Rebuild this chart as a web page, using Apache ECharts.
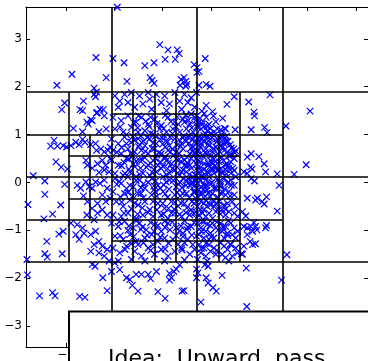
<!DOCTYPE html>
<html>
<head>
<meta charset="utf-8">
<script src="https://cdn.jsdelivr.net/npm/echarts@6/dist/echarts.min.js"></script>
<style>
html, body { margin: 0; padding: 0; background: #fff; }
#main { width: 368px; height: 361px; }
</style>
</head>
<body>
<div id="main"></div>
<script>
var xTicks = [-3, -2, -1, 0, 1, 2, 3];
var yTicks = [-3, -2, -1, 0, 1, 2, 3];
var xRange = [-3.83, 3.25];
var yRange = [-3.437, 3.665];

// quadtree cells that got split: [level, col, row], rows counted from the top
var splitCells = [
    [0, 0, 0],
    [1, 0, 0], [1, 1, 0], [1, 0, 1], [1, 1, 1],
    [2, 0, 1], [2, 0, 2], [2, 1, 1], [2, 2, 1], [2, 1, 2], [2, 2, 2],
    [3, 1, 3], [3, 1, 4],
    [3, 2, 2], [3, 3, 2], [3, 2, 3], [3, 3, 3], [3, 4, 3],
    [3, 2, 4], [3, 3, 4], [3, 2, 5], [3, 3, 5], [3, 4, 4], [3, 4, 5]
];

var ptsTop = [
    [-1.94,3.66],[-3.19,2.03],[-2.88,2.26],[-2.38,2.61],[-2.17,2.19],[-2.03,2.59],[-1.80,2.50],[-1.74,2.11],
    [-1.37,2.44],[-1.26,2.19],[-1.18,2.50],[-1.06,2.88],[-0.95,2.57],[-0.89,2.77],[-0.74,2.57],[-0.70,2.77],
    [-0.66,2.69],[-1.22,2.13],[-1.18,2.07],[-0.62,2.15],[-0.64,2.03],[-2.42,1.97],[-0.35,2.46],[-0.29,2.40],
    [-0.25,2.32],[-0.29,2.30],[-0.12,2.59],[-0.52,2.01],[-0.50,2.05],[-0.25,2.03],[-0.10,2.05],[-0.02,2.01],
    [-0.56,2.19],[-0.52,2.11]
];
var ptsRightTop = [
    [0.48,1.79],[0.33,1.63],[-0.10,1.61],[0.03,1.48],[-0.19,1.49],[-0.14,1.44],[0.24,1.34],[0.78,1.68],
    [0.89,1.47],[0.90,1.39],[1.22,1.83],[0.83,1.10],[1.11,1.15],[1.16,1.04],[0.50,1.10],[0.30,1.12],
    [0.20,1.10],[0.83,0.60],[0.75,0.53],[0.99,0.54],[1.10,0.39],[0.82,0.32],[0.85,0.28],[1.13,0.22],
    [0.68,0.22],[0.75,0.19],[1.37,0.18],[0.47,0.70],[0.51,0.66],[0.49,0.62],[0.34,0.64],[0.42,0.59],
    [0.39,0.55],[0.37,0.29],[0.30,0.27],[0.48,0.25],[0.20,0.29],[0.23,0.19],[0.02,0.41],[0.08,0.35],
    [-0.02,0.33],[0.04,0.27],[0.12,0.31],[0.15,0.25],[0.19,0.91],[0.25,0.97],[0.31,0.87],[0.27,0.81],
    [0.12,0.85],[0.19,0.77],[-0.32,1.29],[-0.25,1.26],[-0.18,1.22],[-0.28,1.15],[-0.21,1.12],[-0.14,1.17],
    [-0.08,1.08],[-0.01,1.13],[0.06,1.05],[-0.11,1.01],[0.13,1.12],[-0.04,1.22],[-0.30,1.39],[-0.23,1.34],
    [-0.32,0.98],[-0.25,0.95],[-0.18,0.91],[-0.28,0.84],[-0.21,0.81],[-0.14,0.85],[-0.08,0.95],[-0.01,0.91],
    [0.06,0.98],[0.13,0.91],[0.23,0.95],[0.30,0.84],[0.20,0.77],[0.10,0.74],[-0.04,0.77],[-0.11,0.70],
    [-0.25,0.67],[-0.32,0.60],[-0.18,0.56],[-0.08,0.60],[0.03,0.64],[0.13,0.60],[0.27,0.67],[0.37,0.56],
    [0.48,0.50],[-0.28,0.46],[-0.14,0.39],[-0.01,0.46],[0.17,0.43],[0.30,0.36],[0.41,0.43],[-0.21,0.25],
    [-0.08,0.22],[0.06,0.19],[0.23,0.22],[0.41,0.19],[0.51,0.12],[-0.32,0.15],[-0.14,0.12]
];
var ptsRight = [
    [2.05,1.49],[1.55,1.18],[1.97,0.37],[1.72,0.17],[1.57,-1.51],[1.41,-0.06],[1.37,-0.60],[0.74,-2.59],
    [0.83,0.08],[0.90,0.03],[0.75,-0.33],[0.92,-0.37],[0.96,-0.33],[1.06,-0.40],[1.10,-0.45],[1.15,-0.30],
    [0.65,-0.61],[0.72,-0.70],[0.89,-0.84],[0.92,-0.92],[0.82,-0.92],[0.86,-1.02],[0.75,-0.95],[0.68,-0.92],
    [0.95,-0.99],[1.15,-0.90],[1.13,-0.95],[0.65,-1.50],[-0.56,-2.26],[0.63,-1.49],[0.68,-1.33],[0.86,-1.30],
    [0.81,-1.23],[0.92,-1.28],[0.75,-1.09]
];
var ptsRightBottom = [
    [-0.32,0.15],[-0.25,0.08],[-0.18,0.13],[-0.11,0.05],[-0.28,-0.02],[-0.21,-0.09],[-0.15,-0.06],[-0.04,0.12],
    [-0.01,-0.02],[-0.08,-0.16],[0.06,-0.12],[-0.32,-0.19],[-0.18,-0.23],[0.03,-0.23],[0.13,0.05],[0.20,-0.09],
    [0.27,0.08],[0.34,-0.02],[0.41,0.05],[0.48,-0.06],[0.23,-0.19],[0.37,-0.19],[0.48,-0.26],[0.30,-0.26],
    [-0.32,-0.33],[-0.21,-0.40],[-0.11,-0.37],[-0.01,-0.47],[-0.28,-0.50],[-0.15,-0.57],[-0.04,-0.64],[0.06,-0.50],
    [-0.25,-0.68],[-0.11,-0.71],[0.03,-0.75],[0.10,-0.61],[0.17,-0.40],[0.27,-0.47],[0.34,-0.44],[0.44,-0.40],
    [0.51,-0.50],[0.23,-0.57],[0.37,-0.61],[0.48,-0.64],[0.30,-0.68],[0.55,-0.71],[-0.28,-0.85],[-0.18,-0.81],
    [-0.08,-0.88],[0.03,-0.85],[-0.21,-0.95],[-0.11,-1.02],[-0.01,-1.06],[0.10,-0.95],[-0.25,-1.09],[-0.15,-1.16],
    [-0.04,-1.19],[0.06,-1.16],[0.20,-0.85],[0.30,-0.92],[0.41,-0.85],[0.48,-0.95],[0.23,-1.02],[0.34,-1.06],
    [0.44,-1.09],[0.55,-1.02],[0.27,-1.16],[0.51,-1.16],[-0.25,-1.30],[-0.15,-1.37],[-0.04,-1.30],[0.06,-1.37],
    [-0.21,-1.47],[-0.11,-1.54],[-0.01,-1.44],[0.10,-1.50],[-0.28,-1.61],[-0.08,-1.64],[0.20,-1.26],[0.27,-1.33],
    [0.34,-1.40],[0.41,-1.30],[0.51,-1.37],[0.23,-1.50],[0.30,-1.57],[0.44,-1.54],[0.55,-1.47],[0.37,-1.64],
    [-0.35,0.05],[-0.30,-0.12],[-0.23,-0.23],[-0.16,-0.16],[-0.09,-0.06],[-0.27,-0.30],[-0.20,0.12],[-0.34,-0.06],
    [-0.15,-0.44],[-0.32,-0.61],[-0.18,-0.64],[-0.35,-0.44],[-0.08,-0.50],[-0.02,-0.30],[0.05,-0.37]
];
var ptsCenterTop = [
    [-1.99,1.81],[-1.89,1.70],[-1.79,1.84],[-1.72,1.67],[-1.65,1.88],[-1.48,1.81],[-1.41,1.64],[-1.30,1.88],
    [-1.27,1.74],[-1.13,1.84],[-1.03,1.67],[-0.96,1.81],[-0.86,1.64],[-0.75,1.88],[-0.65,1.70],[-0.55,1.84],
    [-0.48,1.67],[-0.41,1.77],[-0.30,1.88],[-1.92,1.57],[-1.58,1.57],[-1.23,1.53],[-0.92,1.50],[-0.61,1.53],
    [-0.34,1.57],[-2.03,1.36],[-1.86,1.29],[-1.72,1.39],[-1.55,1.26],[-1.44,1.36],[-1.30,1.22],[-1.17,1.32],
    [-1.03,1.19],[-0.89,1.36],[-0.75,1.26],[-0.58,1.32],[-0.44,1.22],[-0.34,1.36],[-1.99,1.12],[-1.82,1.05],
    [-1.65,1.15],[-1.51,1.05],[-1.37,1.08],[-1.20,1.01],[-1.06,1.12],[-0.92,1.05],[-0.79,1.12],[-0.65,1.05],
    [-0.51,1.12],[-0.37,1.05],[-0.28,1.19],[-2.06,0.91],[-1.92,0.81],[-1.79,0.95],[-1.65,0.84],[-1.51,0.91],
    [-1.37,0.77],[-1.27,0.91],[-1.13,0.81],[-0.99,0.91],[-0.86,0.77],[-0.75,0.91],[-0.61,0.81],[-0.48,0.95],
    [-0.34,0.84],[-2.03,0.67],[-1.86,0.60],[-1.72,0.70],[-1.58,0.64],[-1.44,0.67],[-1.30,0.60],[-1.17,0.70],
    [-1.03,0.60],[-0.89,0.67],[-0.72,0.64],[-0.58,0.70],[-0.44,0.60],[-0.30,0.67],[-2.06,0.46],[-1.92,0.36],
    [-1.75,0.50],[-1.61,0.39],[-1.48,0.46],[-1.34,0.32],[-1.20,0.46],[-1.10,0.36],[-0.96,0.50],[-0.82,0.39],
    [-0.68,0.46],[-0.55,0.36],[-0.41,0.50],[-0.30,0.39],[-1.99,0.19],[-1.82,0.15],[-1.68,0.22],[-1.55,0.12],
    [-1.41,0.19],[-1.27,0.15],[-1.13,0.22],[-0.99,0.12],[-0.86,0.19],[-0.75,0.26],[-0.65,0.15],[-0.51,0.22],
    [-0.37,0.12],[-0.28,0.26],[-0.90,0.29],[-0.48,0.08],[-1.03,0.29],[-0.41,1.43],[-0.32,0.98],[-0.27,0.57],
    [-0.55,1.26],[-0.37,0.74],[-0.27,0.91],[-0.44,0.36],[-0.61,0.22]
];
var ptsCenterBottom = [
    [-1.99,0.08],[-1.86,-0.02],[-1.72,0.12],[-1.61,-0.09],[-1.48,0.05],[-1.37,-0.12],[-1.23,0.08],[-1.10,-0.06],
    [-0.99,-0.19],[-0.86,0.05],[-0.72,-0.09],[-0.58,0.08],[-0.44,-0.06],[-0.34,-0.19],[-2.03,-0.19],[-1.79,-0.23],
    [-1.51,-0.23],[-1.23,-0.26],[-0.75,-0.26],[-0.51,-0.23],[-0.30,0.05],[-1.96,-0.40],[-1.82,-0.50],[-1.68,-0.37],
    [-1.51,-0.47],[-1.37,-0.40],[-1.27,-0.57],[-1.10,-0.44],[-0.96,-0.54],[-0.82,-0.40],[-0.68,-0.50],[-0.55,-0.44],
    [-0.41,-0.57],[-0.30,-0.40],[-2.03,-0.68],[-1.86,-0.71],[-1.72,-0.64],[-1.55,-0.75],[-1.41,-0.68],[-1.20,-0.71],
    [-1.03,-0.68],[-0.89,-0.75],[-0.75,-0.64],[-0.61,-0.71],[-0.44,-0.68],[-0.30,-0.75],[-2.06,-0.85],[-1.92,-0.92],
    [-1.79,-0.81],[-1.61,-0.95],[-1.48,-0.85],[-1.34,-0.99],[-1.17,-0.88],[-1.03,-1.02],[-0.89,-0.85],[-0.72,-0.95],
    [-0.58,-1.06],[-0.41,-0.92],[-1.99,-1.12],[-1.82,-1.19],[-1.68,-1.09],[-1.55,-1.23],[-1.37,-1.16],[-1.23,-1.09],
    [-1.10,-1.23],[-0.96,-1.16],[-0.79,-1.19],[-0.48,-1.19],[-0.30,-1.12],[-2.03,-1.37],[-1.89,-1.47],[-1.75,-1.33],
    [-1.58,-1.44],[-1.44,-1.54],[-1.30,-1.37],[-1.51,-1.30],[-1.17,-1.50],[-1.03,-1.40],[-0.89,-1.54],[-0.75,-1.44],
    [-0.61,-1.37],[-0.44,-1.50],[-0.34,-1.40],[-1.92,-1.64],[-1.65,-1.61],[-1.37,-1.64],[-0.96,-1.64],[-0.55,-1.62]
];
// the thick middle of the cloud, where single crosses run together
var ptsCore = [
    [-1.60,1.25],[-1.35,1.28],[-1.12,1.23],[-0.83,1.27],[-0.68,1.22],[-0.47,1.30],[-0.20,1.24],[0.10,1.27],
    [-1.75,1.00],[-1.45,0.97],[-1.25,1.03],[-0.98,0.99],[-0.80,1.02],[-0.56,0.97],[-0.42,1.01],[-0.15,0.98],
    [0.00,1.03],[0.22,1.00],[-1.58,0.88],[-1.40,0.86],[-1.05,0.90],[-0.90,0.85],[-0.66,0.89],[-0.52,0.86],
    [-0.38,0.90],[-0.05,0.87],[0.15,0.89],[0.35,0.86],[-1.85,0.73],[-1.50,0.75],[-1.22,0.71],[-0.95,0.74],
    [-0.80,0.70],[-0.63,0.76],[-0.41,0.72],[-0.22,0.74],[0.05,0.71],[0.25,0.75],[0.42,0.72],[-1.62,0.55],
    [-1.38,0.53],[-1.12,0.57],[-0.95,0.54],[-0.78,0.56],[-0.50,0.53],[-0.36,0.57],[-0.15,0.54],[0.00,0.56],
    [0.22,0.53],[-1.80,0.42],[-1.55,0.44],[-1.25,0.40],[-1.05,0.43],[-0.88,0.41],[-0.62,0.44],[-0.48,0.40],
    [-0.22,0.43],[-0.06,0.41],[0.10,0.44],[0.32,0.40],[-1.70,0.28],[-1.46,0.30],[-1.18,0.27],[-0.80,0.29],
    [-0.58,0.26],[-0.40,0.30],[-0.15,0.27],[0.00,0.29],[0.14,0.26],[0.45,0.30],[-1.90,0.02],[-1.55,0.04],
    [-1.30,0.00],[-1.15,0.03],[-0.93,0.01],[-0.78,0.04],[-0.64,0.00],[-0.50,0.03],[-0.38,0.01],[-0.22,0.04],
    [0.02,0.00],[0.18,0.03],[0.36,0.01],[-1.75,-0.13],[-1.45,-0.11],[-1.18,-0.15],[-1.05,-0.12],[-0.87,-0.14],
    [-0.60,-0.11],[-0.25,-0.15],[0.10,-0.12],[0.28,-0.14],[-1.88,-0.30],[-1.62,-0.28],[-1.40,-0.32],[-1.12,-0.29],
    [-0.90,-0.31],[-0.64,-0.28],[-0.45,-0.32],[-0.12,-0.29],[0.14,-0.31],[0.40,-0.28],[-1.65,-0.55],[-1.42,-0.53],
    [-1.12,-0.57],[-0.88,-0.54],[-0.76,-0.56],[-0.50,-0.53],[-0.22,-0.57],[0.15,-0.54],[0.30,-0.56],[-1.90,-0.82],
    [-1.55,-0.80],[-1.25,-0.84],[-0.96,-0.81],[-0.80,-0.83],[-0.55,-0.80],[-0.35,-0.84],[-0.14,-0.81],[0.12,-0.83],
    [0.36,-0.80],[-1.72,-1.00],[-1.45,-0.98],[-1.18,-1.02],[-0.85,-0.99],[-0.65,-1.01],[-0.50,-0.98],[-0.20,-1.02],
    [0.15,-0.99],[-1.65,-1.28],[-1.40,-1.26],[-1.20,-1.30],[-0.88,-1.27],[-0.68,-1.29],[-0.55,-1.26],[-0.38,-1.30],
    [-0.10,-1.27],[0.40,-1.29]
];
var ptsCore2 = [
    [-1.50,1.39],[-1.25,1.36],[-0.95,1.40],[-0.70,1.37],[-0.52,1.41],[-0.10,1.36],[0.05,1.39],
    [-1.88,1.16],[-1.52,1.14],[-1.28,1.17],[-0.98,1.13],[-0.72,1.16],[-0.40,1.14],[-0.08,1.17],[0.28,1.13],
    [-1.62,0.96],[-1.32,0.94],[-1.15,0.97],[-0.85,0.95],[-0.58,0.93],[-0.45,0.97],[0.02,0.94],[0.32,0.96],
    [-1.75,0.81],[-1.48,0.79],[-1.20,0.82],[-1.00,0.80],[-0.70,0.78],[-0.46,0.82],[-0.06,0.80],[0.40,0.79],
    [-1.95,0.63],[-1.66,0.61],[-1.36,0.65],[-1.08,0.62],[-0.84,0.64],[-0.66,0.61],[-0.38,0.65],[-0.12,0.62],[0.18,0.64],
    [-1.70,0.49],[-1.42,0.47],[-1.15,0.50],[-0.92,0.46],[-0.72,0.49],[-0.55,0.47],[-0.30,0.50],[0.05,0.48],[0.26,0.46],
    [-1.85,0.35],[-1.58,0.33],[-1.30,0.36],[-1.00,0.34],[-0.70,0.32],[-0.50,0.35],[-0.26,0.33],[-0.06,0.36],[0.35,0.34],
    [-1.78,0.19],[-1.48,0.17],[-1.20,0.20],[-0.92,0.16],[-0.70,0.19],[-0.45,0.17],[-0.05,0.20],[0.32,0.18],
    [-1.95,-0.04],[-1.68,-0.06],[-1.40,-0.03],[-1.18,-0.07],[-0.98,-0.05],[-0.68,-0.03],[-0.52,-0.06],[-0.40,-0.04],
    [-0.12,-0.07],[0.20,-0.04],[0.42,-0.06],
    [-1.72,-0.21],[-1.45,-0.23],[-1.15,-0.20],[-0.95,-0.24],[-0.70,-0.21],[-0.58,-0.23],[-0.36,-0.20],[-0.05,-0.22],[0.22,-0.24],
    [-1.85,-0.41],[-1.58,-0.43],[-1.20,-0.40],[-1.00,-0.44],[-0.75,-0.41],[-0.62,-0.43],[-0.40,-0.40],[-0.05,-0.42],[0.10,-0.44],
    [-1.80,-0.64],[-1.52,-0.66],[-1.30,-0.63],[-0.98,-0.66],[-0.82,-0.64],[-0.65,-0.67],[-0.52,-0.63],[-0.35,-0.65],[0.20,-0.66],
    [-1.70,-0.91],[-1.42,-0.93],[-1.10,-0.90],[-0.95,-0.94],[-0.62,-0.91],[-0.48,-0.93],[-0.02,-0.90],[0.25,-0.93],
    [-1.88,-1.11],[-1.60,-1.13],[-1.32,-1.10],[-1.05,-1.14],[-0.72,-1.11],[-0.58,-1.13],[-0.40,-1.10],[0.00,-1.13],[0.35,-1.11],
    [-1.78,-1.40],[-1.25,-1.42],[-0.95,-1.39],[-0.60,-1.41],[-0.20,-1.38],[0.12,-1.42]
];
var ptsLeft = [
    [-3.03,1.66],[-3.09,1.52],[-3.25,0.88],[-3.32,0.76],[-3.18,0.76],[-3.06,0.77],[-2.99,0.74],[-3.21,0.43],
    [-3.10,0.32],[-2.97,0.28],[-3.68,0.14],[-3.44,0.03],[-3.03,-0.04],[-3.44,-0.25],[-3.79,-0.46],[-3.11,-0.47],
    [-3.28,-0.66],[-3.46,-0.76],[-3.15,-1.08],[-3.06,-1.02],[-3.40,-1.23],[-3.44,-1.49],[-3.39,-1.56],[-3.08,-1.49],
    [-3.81,-1.61],
    [-2.64,1.70],[-2.71,1.52],[-2.66,1.50],[-2.35,1.46],[-2.30,1.53],[-2.23,1.52],[-2.37,1.45],[-2.57,1.26],
    [-2.49,1.31],[-2.46,1.29],[-2.54,1.22],[-2.21,1.39],[-2.85,1.13],[-2.66,1.06],[-2.32,1.06],[-2.17,1.12],
    [-2.42,1.84],[-2.39,1.79],[-2.37,1.89],
    [-2.90,0.77],[-2.80,0.84],[-2.73,0.79],[-2.66,0.90],[-2.61,0.84],[-2.49,0.79],[-2.39,0.81],[-2.37,0.67],
    [-2.28,0.70],[-2.21,0.64],[-2.13,0.67],[-2.09,0.74],[-2.59,0.46],[-2.56,0.36],[-2.46,0.30],[-2.35,0.39],
    [-2.25,0.46],[-2.18,0.36],[-2.21,0.26],[-2.11,0.22],[-2.32,0.21],[-2.08,0.50],
    [-2.77,-0.06],[-2.70,-0.12],[-2.59,0.01],[-2.52,-0.09],[-2.64,-0.28],[-2.56,-0.40],[-2.57,-0.68],[-2.46,-0.12],
    [-2.39,0.01],[-2.30,-0.02],[-2.21,0.05],[-2.15,-0.12],[-2.25,-0.26],[-2.35,-0.44],[-2.18,-0.40],[-2.09,-0.33],
    [-2.46,-0.54],[-2.35,-0.64],[-2.25,-0.57],[-2.15,-0.68],[-2.42,-0.78],
    [-2.90,-0.85],[-2.77,-0.88],[-2.66,-0.95],[-2.63,-1.06],[-2.80,-1.09],[-2.73,-1.19],[-2.49,-1.09],[-2.39,-1.02],
    [-2.32,-1.23],[-2.25,-1.33],[-2.42,-1.30],[-2.49,-1.44],[-2.32,-1.47],[-2.21,-1.54],[-2.15,-1.40],[-2.11,-1.64],
    [-2.46,-1.71]
];
var ptsBottom = [
    [-3.80,-1.93],[-3.55,-2.37],[-3.28,-2.30],[-3.23,-2.37],[-2.72,-2.38],[-2.61,-2.40],[-2.15,-2.26],[-2.24,-1.99],
    [-2.40,-1.75],
    [-1.99,-1.68],[-1.89,-1.82],[-2.06,-1.86],[-1.75,-1.99],[-1.68,-2.03],[-1.63,-2.15],[-1.51,-2.27],[-1.55,-1.92],
    [-1.44,-1.92],[-1.30,-1.92],[-1.25,-2.01],[-1.13,-1.86],[-0.86,-1.90],[-0.82,-1.99],[-0.86,-2.04],[-0.77,-1.86],
    [-0.72,-1.81],[-0.65,-1.72],[-1.10,-2.28],[-0.95,-2.42],[-0.60,-2.27],[-0.30,-1.99],[-0.27,-1.89],[-0.10,-1.99],
    [-0.06,-2.10],[0.04,-2.20],[0.11,-2.27],[0.23,-1.94],[-0.21,-2.50],[0.73,-1.79],[1.46,-2.04],[-0.13,-1.72],
    [-0.06,-1.75],[-0.30,-1.81]
];

var points = [].concat(ptsTop, ptsRightTop, ptsRight, ptsRightBottom, ptsCenterTop,
    ptsCenterBottom, ptsCore, ptsCore2, ptsLeft, ptsBottom);

// one cross per split cell, in data units
var gridLines = [];
splitCells.forEach(function (c) {
    var n = Math.pow(2, c[0]);
    var w = (xRange[1] - xRange[0]) / n;
    var h = (yRange[1] - yRange[0]) / n;
    var x0 = xRange[0] + c[1] * w;
    var yTop = yRange[1] - c[2] * h;
    gridLines.push({ coords: [[x0 + w / 2, yTop], [x0 + w / 2, yTop - h]] });
    gridLines.push({ coords: [[x0, yTop - h / 2], [x0 + w, yTop - h / 2]] });
});

function minus(v) { return String(v).replace('-', '\u2212'); }

var chart = echarts.init(document.getElementById('main'), null, { renderer: 'canvas' });
var axisFont = { fontFamily: 'DejaVu Sans', fontSize: 12, color: '#000' };

function frameAxis(pos, ticks, label) {
    return {
        type: 'value', position: pos,
        splitLine: { show: false },
        axisLine: { onZero: false, lineStyle: { color: '#000', width: 1 } },
        axisTick: { inside: true, length: 4, customValues: ticks, lineStyle: { color: '#000' } },
        axisLabel: label
    };
}

var xBottom = frameAxis('bottom', xTicks, Object.assign({ customValues: xTicks, margin: 2, formatter: minus }, axisFont));
var xTop = frameAxis('top', xTicks, { show: false });
var yLeft = frameAxis('left', yTicks, Object.assign({ customValues: yTicks, margin: 4, formatter: minus }, axisFont));
var yRight = frameAxis('right', yTicks, { show: false });
[xBottom, xTop].forEach(function (a) { a.min = xRange[0]; a.max = xRange[1]; });
[yLeft, yRight].forEach(function (a) { a.min = yRange[0]; a.max = yRange[1]; });

var option = {
    animation: false,
    grid: { left: 26, top: 7, width: 342, height: 343 },
    xAxis: [xBottom, xTop],
    yAxis: [yLeft, yRight],
    series: [{
        type: 'scatter',
        data: points,
        symbol: 'path://M0,0L10,10M10,0L0,10',
        symbolSize: 6.5,
        itemStyle: { color: 'none', borderColor: '#0000ff', borderWidth: 1.2, opacity: 1 },
        z: 2
    }, {
        type: 'lines',
        coordinateSystem: 'cartesian2d',
        data: gridLines,
        lineStyle: { color: '#000', width: 1.6, opacity: 1 },
        z: 3
    }],
    graphic: [{
        type: 'rect',
        shape: { x: 69, y: 311.5, width: 320, height: 80 },
        style: { fill: '#fff', stroke: '#000', lineWidth: 2 },
        z: 100
    }, {
        type: 'text',
        x: 108, y: 348,
        style: { text: 'Idea:  Upward  pass', font: '22px "DejaVu Sans"', fill: '#000' },
        z: 101
    }]
};
chart.setOption(option);
</script>
</body>
</html>
